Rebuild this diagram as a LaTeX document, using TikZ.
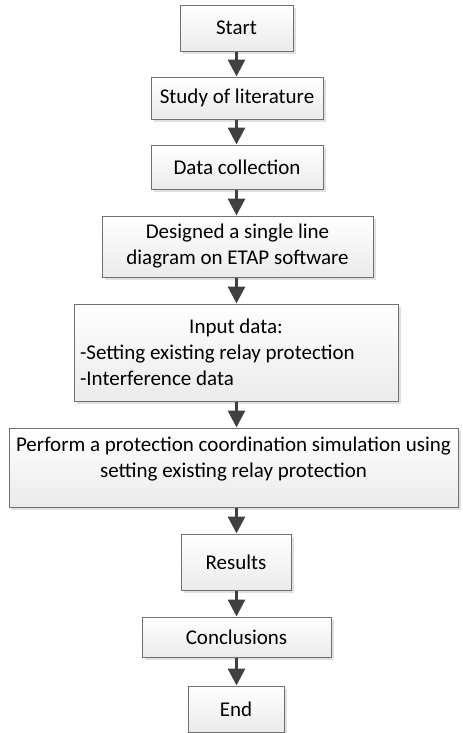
\documentclass[tikz,border=0pt]{standalone}
\usepackage{fontspec}
\setmainfont{Carlito}
\usetikzlibrary{arrows.meta,shadows}
\newdimen\px
\px=0.75pt
\definecolor{arrowgrey}{HTML}{404040}
\definecolor{edgegrey}{HTML}{707070}
\definecolor{shadowgrey}{HTML}{E0E0E0}
\tikzset{
  stepbox/.style={
    rectangle, draw=edgegrey, line width=0.75pt,
    top color=white, bottom color=black!8,
    drop shadow={shadow xshift=2.25pt, shadow yshift=-2.25pt, fill=shadowgrey, opacity=1},
    inner sep=3pt, align=center,
    font=\fontsize{15.75pt}{19.5pt}\selectfont},
  flow/.style={draw=arrowgrey, line width=2.25pt,
    -{Triangle[length=12.75pt,width=12.75pt]}, color=arrowgrey}
}
\begin{document}
\begin{tikzpicture}[x=0.75pt, y=-0.75pt]
  \useasboundingbox (0,0) rectangle (463,733);

  \node[stepbox, minimum width=113\px, minimum height=46\px] (start) at (236.5,28) {Start};
  \node[stepbox, minimum width=172\px, minimum height=42\px] (study) at (237,98) {Study of literature};
  \node[stepbox, minimum width=172\px, minimum height=44\px] (data) at (237,167) {Data collection};
  \node[stepbox, minimum width=271\px, minimum height=61\px] (design) at (237.5,246.5)
    {Designed a single line\\diagram on ETAP software};
  \node[stepbox, minimum width=324\px, minimum height=97\px, inner xsep=6\px,
        text width=312\px, align=flush left] (input) at (236,352.5)
    {\makebox[\linewidth]{Input data:}\\-Setting existing relay protection\\-Interference data};
  \node[stepbox, minimum width=449\px, minimum height=79\px, text depth=16pt] (perform) at (233.5,467.5)
    {Perform a protection coordination simulation using\\setting existing relay protection};
  \node[stepbox, minimum width=110\px, minimum height=56\px] (results) at (236,562) {Results};
  \node[stepbox, minimum width=189\px, minimum height=40\px] (concl) at (236.5,637) {Conclusions};
  \node[stepbox, minimum width=96\px, minimum height=46\px] (end) at (236,709) {End};

  % vertical connectors between consecutive steps
  \foreach \p/\q in {start/study, study/data, data/design, design/input,
                     input/perform, perform/results, results/concl, concl/end}
    \draw[flow] (\p.south -| start.south) -- (\q.north -| start.south);
\end{tikzpicture}
\end{document}
